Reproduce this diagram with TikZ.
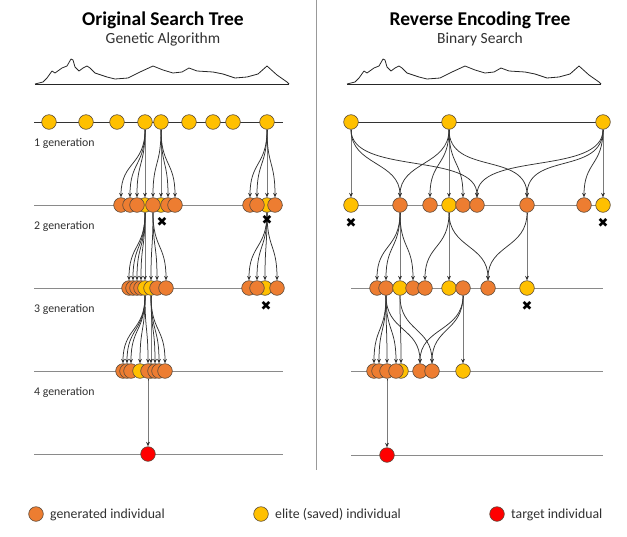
\documentclass[tikz,border=0pt]{standalone}
\usepackage{fontspec}
\setmainfont{Carlito}
\newfontfamily\dejavu{DejaVu Sans}
\usetikzlibrary{arrows.meta}
\definecolor{indorange}{HTML}{ED7D31}
\definecolor{indyellow}{HTML}{FFC000}
\definecolor{indred}{HTML}{FF0000}
\definecolor{rim}{HTML}{5A4A3A}
\definecolor{genline}{HTML}{8A8A8A}
\definecolor{txt}{HTML}{303030}
\pgfdeclarelayer{bg}
\pgfsetlayers{bg,main}
\newcommand{\linkto}[3][36]{\draw[conn] (#2.south) .. controls +(0,#1) and +(0,-#1) .. (#3.north);}
\begin{document}
\begin{tikzpicture}[x=1pt,y=-1pt,
  ind/.style={circle,draw=rim,line width=0.6pt,minimum size=14.6pt,inner sep=0pt},
  orangeind/.style={ind,fill=indorange},
  eliteind/.style={ind,fill=indyellow},
  targetind/.style={ind,fill=indred},
  conn/.style={draw=black!80,line width=0.75pt,-{Stealth[length=4.5pt,width=3.8pt]}},
  gl/.style={draw=genline,line width=1pt},
  gl1/.style={draw=black!80,line width=0.9pt},
  titletext/.style={font=\fontsize{19.5}{22}\selectfont\bfseries,anchor=base,text=black},
  subtext/.style={font=\fontsize{15.5}{18}\selectfont,anchor=base,text=txt},
  genlabel/.style={font=\fontsize{11.8}{13}\selectfont,anchor=base west,text=txt,inner sep=0pt},
  legendtext/.style={font=\fontsize{13.8}{16}\selectfont,anchor=base west,text=txt,inner sep=0pt},
  xmark/.style={font=\dejavu\fontsize{13}{13}\selectfont,inner sep=0pt,text=black},
  land/.style={draw=black!85,line width=0.8pt,line join=round}
]
\useasboundingbox (0,0) rectangle (627,536);

% titles
\node[titletext] (tl) at (163,25) {Original Search Tree};
\node[subtext] (sl) at (163,43.5) {Genetic Algorithm};
\node[titletext] (tr) at (480,25) {Reverse Encoding Tree};
\node[subtext] (sr) at (480,43.5) {Binary Search};

% divider
\draw[draw=black!40,line width=1pt] (316,0) -- (316,470);

% landscapes
\foreach \s in {0,312}{
  \begin{scope}[xshift=\s pt]
  \draw[land] (35,84) -- (289,84);
  \draw[land] (35,84) -- (43,82) -- (47,78) -- (52,71) -- (55,73) -- (62,68) -- (67,66) -- (71,59) -- (73,60) -- (75,67) -- (79,71) -- (83,68) -- (87,66) -- (90,68) -- (95,73) -- (107,77) -- (115,79) -- (128,78) -- (140,72) -- (153,66) -- (163,70) -- (173,73) -- (182,72) -- (189,68) -- (197,71) -- (213,72) -- (223,74) -- (235,78) -- (247,77) -- (258,74) -- (267,66) -- (277,75) -- (287,82) -- (289,84);
  \end{scope}
}

% generation lines
\begin{pgfonlayer}{bg}
\draw[gl1] (34,122) -- (283,122);
\foreach \y in {205,288,371,454} { \draw[gl] (34,\y) -- (283,\y); }
\draw[gl1] (351,122) -- (603,122);
\foreach \y in {205,288,371,455} { \draw[gl] (351,\y) -- (603,\y); }
\end{pgfonlayer}

% generation labels
\node[genlabel] (g1) at (34,146) {1 generation};
\node[genlabel] (g2) at (34,229) {2 generation};
\node[genlabel] (g3) at (34,312) {3 generation};
\node[genlabel] (g4) at (34,395) {4 generation};

% ---------------- LEFT TREE ----------------
% gen 1
\node[eliteind] (L1a) at (49,122) {};
\node[eliteind] (L1b) at (86,122) {};
\node[eliteind] (L1c) at (117,122) {};
\node[eliteind] (L1d) at (145,122) {};
\node[eliteind] (L1e) at (161,122) {};
\node[eliteind] (L1f) at (189,122) {};
\node[eliteind] (L1g) at (213,122) {};
\node[eliteind] (L1h) at (233,122) {};
\node[eliteind] (L1i) at (267,122) {};
% gen 2
\node[eliteind] (L2y1) at (145,205) {};
\node[eliteind] (L2y2) at (161,205) {};
\node[eliteind] (L2y3) at (267,205) {};
\node[orangeind] (L2a) at (121,205) {};
\node[orangeind] (L2b) at (130,205) {};
\node[orangeind] (L2c) at (137,205) {};
\node[orangeind] (L2d) at (153,205) {};
\node[orangeind] (L2e) at (168,205) {};
\node[orangeind] (L2f) at (175,205) {};
\node[orangeind] (L2g) at (250,205) {};
\node[orangeind] (L2h) at (257,205) {};
\node[orangeind] (L2i) at (275,205) {};
% gen 3
\node[orangeind] (L3a) at (129,288) {};
\node[orangeind] (L3b) at (133,288) {};
\node[orangeind] (L3c) at (137,288) {};
\node[orangeind] (L3d) at (141,288) {};
\node[eliteind] (L3y1) at (145,288) {};
\node[eliteind] (L3y2) at (151,288) {};
\node[orangeind] (L3e) at (157,288) {};
\node[orangeind] (L3f) at (166,288) {};
\node[eliteind] (L3y3) at (265,288) {};
\node[orangeind] (L3g) at (249,288) {};
\node[orangeind] (L3h) at (257,288) {};
\node[orangeind] (L3i) at (277,288) {};
% gen 4
\node[orangeind] (L4a) at (123,371) {};
\node[orangeind] (L4b) at (127,371) {};
\node[orangeind] (L4c) at (131,371) {};
\node[eliteind] (L4y1) at (140,371) {};
\node[eliteind] (L4y2) at (151,371) {};
\node[orangeind] (L4d) at (148,371) {};
\node[orangeind] (L4e) at (155,371) {};
\node[orangeind] (L4f) at (159,371) {};
\node[orangeind] (L4g) at (165,371) {};
% target
\node[targetind] (T1) at (148,454) {};

% left connectors
\foreach \c in {L2a,L2b,L2c,L2y1} { \linkto{L1d}{\c} }
\foreach \c in {L2d,L2y2,L2e,L2f} { \linkto{L1e}{\c} }
\foreach \c in {L2g,L2h,L2y3,L2i} { \linkto{L1i}{\c} }
\foreach \c in {L3a,L3b,L3c,L3d,L3y1} { \linkto{L2y1}{\c} }
\foreach \c in {L3y2,L3e,L3f} { \linkto{L2d}{\c} }
\foreach \c in {L3g,L3h,L3y3,L3i} { \linkto{L2y3}{\c} }
\foreach \c in {L4a,L4b,L4c,L4y1,L4d} { \linkto{L3y1}{\c} }
\foreach \c in {L4y2,L4e,L4f,L4g} { \linkto{L3y2}{\c} }
\linkto{L4d}{T1}

% x marks left
\node[xmark] (xl1) at (162,222) {✖};
\node[xmark] (xl2) at (267,220) {✖};
\node[xmark] (xl3) at (266,306) {✖};

% ---------------- RIGHT TREE ----------------
% gen 1
\node[eliteind] (R1a) at (351,122) {};
\node[eliteind] (R1b) at (449,122) {};
\node[eliteind] (R1c) at (603,122) {};
% gen 2
\node[eliteind] (R2a) at (351,205) {};
\node[orangeind] (R2b) at (400,205) {};
\node[orangeind] (R2c) at (430,205) {};
\node[eliteind] (R2d) at (449,205) {};
\node[orangeind] (R2e) at (463,205) {};
\node[orangeind] (R2f) at (477,205) {};
\node[orangeind] (R2g) at (527,205) {};
\node[orangeind] (R2h) at (584,205) {};
\node[eliteind] (R2i) at (603,205) {};
% gen 3
\node[orangeind] (R3a) at (377,288) {};
\node[orangeind] (R3b) at (386,288) {};
\node[eliteind] (R3c) at (400,288) {};
\node[orangeind] (R3d) at (413,288) {};
\node[orangeind] (R3e) at (425,288) {};
\node[eliteind] (R3f) at (449,288) {};
\node[orangeind] (R3g) at (463,288) {};
\node[orangeind] (R3h) at (488,288) {};
\node[eliteind] (R3i) at (527,288) {};
% gen 4
\node[eliteind] (R4y1) at (401,371) {};
\node[orangeind] (R4a) at (374,371) {};
\node[orangeind] (R4b) at (379,371) {};
\node[orangeind] (R4c) at (387,371) {};
\node[orangeind] (R4d) at (396,371) {};
\node[orangeind] (R4e) at (420,371) {};
\node[orangeind] (R4f) at (432,371) {};
\node[eliteind] (R4y2) at (463,371) {};
% target
\node[targetind] (T2) at (387,455) {};

% right connectors
\foreach \c in {R2a,R2b} { \linkto{R1a}{\c} }
\linkto[46]{R1a}{R2f}
\foreach \c in {R2b,R2c,R2d,R2e} { \linkto{R1b}{\c} }
\linkto[46]{R1b}{R2g}
\foreach \c in {R2h,R2i} { \linkto{R1c}{\c} }
\linkto[46]{R1c}{R2f}
\linkto[46]{R1c}{R2g}
\foreach \c in {R3a,R3b,R3c,R3d} { \linkto{R2b}{\c} }
\foreach \c in {R3e,R3f,R3h} { \linkto{R2d}{\c} }
\foreach \c in {R3h,R3i} { \linkto{R2g}{\c} }
\foreach \c in {R4a,R4b,R4c,R4d,R4e} { \linkto{R3b}{\c} }
\foreach \c in {R4y1,R4f} { \linkto{R3c}{\c} }
\foreach \c in {R4e,R4f,R4y2} { \linkto{R3g}{\c} }
\linkto{R4c}{T2}

% x marks right
\node[xmark] (xr1) at (351,223) {✖};
\node[xmark] (xr2) at (603,223) {✖};
\node[xmark] (xr3) at (527,306) {✖};

% ---------------- LEGEND ----------------
\node[orangeind] (lg1) at (36,514) {};
\node[legendtext] (lt1) at (50,518.5) {generated individual};
\node[eliteind] (lg2) at (261,514) {};
\node[legendtext] (lt2) at (275,518.5) {elite (saved) individual};
\node[targetind] (lg3) at (497,514) {};
\node[legendtext] (lt3) at (511,518.5) {target individual};
\end{tikzpicture}
\end{document}
